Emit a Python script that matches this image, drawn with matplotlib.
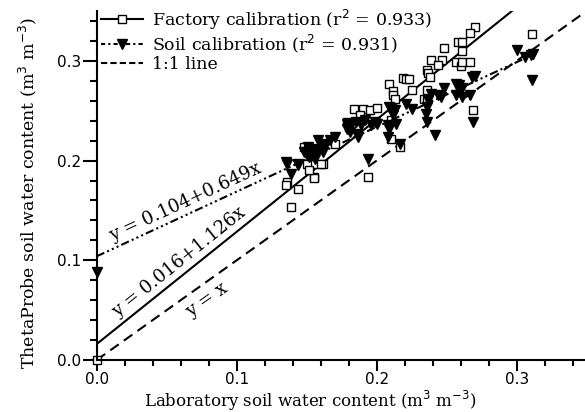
import matplotlib
matplotlib.use("Agg")
import matplotlib.pyplot as plt
import numpy as np
from matplotlib.lines import Line2D

# Factory calibration (open squares)
fac_x = [0.0, 0.270, 0.267, 0.258, 0.261, 0.261, 0.248, 0.239, 0.247, 0.244, 0.257, 0.260,
         0.261, 0.267, 0.311, 0.236, 0.237, 0.238, 0.219, 0.221, 0.223, 0.209, 0.212, 0.212,
         0.213, 0.225, 0.234, 0.236, 0.236, 0.269, 0.184, 0.190, 0.195, 0.200, 0.188, 0.210,
         0.210, 0.217, 0.194, 0.179, 0.180, 0.162, 0.155, 0.150, 0.155, 0.136, 0.135, 0.144,
         0.148, 0.151, 0.170, 0.139, 0.155, 0.160, 0.152]
fac_y = [0.0, 0.334, 0.328, 0.319, 0.319, 0.310, 0.313, 0.301, 0.301, 0.296, 0.299, 0.295,
         0.299, 0.299, 0.327, 0.291, 0.288, 0.284, 0.283, 0.282, 0.282, 0.277, 0.270, 0.266,
         0.262, 0.271, 0.262, 0.261, 0.271, 0.251, 0.252, 0.252, 0.251, 0.253, 0.246, 0.241,
         0.222, 0.214, 0.184, 0.239, 0.234, 0.197, 0.197, 0.197, 0.184, 0.179, 0.176, 0.171,
         0.214, 0.212, 0.217, 0.153, 0.183, 0.197, 0.191]

# Soil calibration (filled triangles)
soil_x = [0.0, 0.300, 0.306, 0.310, 0.312, 0.311, 0.268, 0.270, 0.259, 0.257, 0.261, 0.257,
          0.261, 0.267, 0.248, 0.244, 0.246, 0.239, 0.237, 0.236, 0.235, 0.236, 0.269, 0.242,
          0.221, 0.225, 0.209, 0.213, 0.212, 0.214, 0.208, 0.209, 0.208, 0.217, 0.194, 0.199,
          0.200, 0.196, 0.192, 0.189, 0.186, 0.187, 0.185, 0.182, 0.179, 0.179, 0.181, 0.170,
          0.167, 0.164, 0.162, 0.158, 0.160, 0.155, 0.151, 0.155, 0.152, 0.156, 0.162, 0.144,
          0.139, 0.135, 0.148, 0.150, 0.136, 0.144, 0.154, 0.157]
soil_y = [0.088, 0.311, 0.304, 0.306, 0.307, 0.281, 0.284, 0.285, 0.276, 0.277, 0.273, 0.266,
          0.264, 0.266, 0.273, 0.266, 0.264, 0.267, 0.261, 0.254, 0.247, 0.239, 0.239, 0.226,
          0.257, 0.252, 0.254, 0.251, 0.246, 0.237, 0.236, 0.232, 0.224, 0.217, 0.202, 0.239,
          0.237, 0.236, 0.241, 0.236, 0.227, 0.224, 0.239, 0.236, 0.237, 0.232, 0.229, 0.224,
          0.221, 0.217, 0.214, 0.221, 0.216, 0.212, 0.214, 0.207, 0.204, 0.202, 0.209, 0.197,
          0.187, 0.199, 0.209, 0.206, 0.197, 0.196, 0.206, 0.207]

fac_a, fac_b = 0.016, 1.126
soil_a, soil_b = 0.104, 0.649
fac_r2, soil_r2 = 0.933, 0.931

plt.rcParams['font.family'] = ['DejaVu Serif']
fig = plt.figure(figsize=(5.85, 4.12), dpi=100)
ax = fig.add_axes([96.7 / 585, 52 / 412, 1 - 96.7 / 585, 349 / 412])
ax.set_xlim(0, 0.3488)
ax.set_ylim(0, 0.35)

dashdot3 = (0, (4, 1.5, 1, 1.5, 1, 1.5, 1, 1.5))

xf = np.array([0.0, 0.31])
ax.plot(xf, fac_a + fac_b * xf, color='black', lw=1.5, ls='-')
xs = np.array([0.0, 0.312])
ax.plot(xs, soil_a + soil_b * xs, color='black', lw=1.5, ls=dashdot3)
x1 = np.array([0.0, 0.35])
ax.plot(x1, x1, color='black', lw=1.5, ls=(0, (5, 3)))

ax.plot(fac_x, fac_y, ls='none', marker='s', ms=5.5, mfc='white', mec='black', mew=1.0, clip_on=False)
ax.plot(soil_x, soil_y, ls='none', marker='v', ms=7.5, mfc='black', mec='black', clip_on=False)

h1 = Line2D([], [], color='black', lw=1.5, marker='s', ms=5.5, mfc='white', mec='black', mew=1.0)
h2 = Line2D([], [], color='black', lw=1.5, ls=(0, (2, 1.5, 1, 1.5)), marker='v', ms=7, mfc='black')
h3 = Line2D([], [], color='black', lw=1.5, ls=(0, (3, 1.5)))
leg = ax.legend([h1, h2, h3],
                [f'Factory calibration (r$^2$ = {fac_r2})', f'Soil calibration (r$^2$ = {soil_r2})', '1:1 line'],
                loc='upper left', bbox_to_anchor=(-0.005, 1.03), frameon=False, fontsize=12.5,
                handlelength=2.4, handletextpad=0.5, labelspacing=0.05, numpoints=1, borderaxespad=0)

for s in ['top', 'right']:
    ax.spines[s].set_visible(False)
for s in ['left', 'bottom']:
    ax.spines[s].set_linewidth(1.5)

ax.set_xticks([0.0, 0.1, 0.2, 0.3])
ax.set_xticks(np.arange(0, 0.35, 0.02), minor=True)
ax.set_yticks([0.0, 0.1, 0.2, 0.3])
ax.set_yticks(np.arange(0, 0.35, 0.02), minor=True)
ax.set_xticklabels(['0.0', '0.1', '0.2', '0.3'], family='DejaVu Sans')
ax.set_yticklabels(['0.0', '0.1', '0.2', '0.3'], family='DejaVu Sans')
ax.tick_params(axis='x', which='major', length=8, width=1.5, labelsize=11, pad=1)
ax.tick_params(axis='x', which='minor', length=4, width=1.5)
ax.tick_params(axis='y', which='major', length=10, width=1.5, labelsize=11, pad=1)
ax.tick_params(axis='y', which='minor', length=5, width=1.5)

ax.set_xlabel('Laboratory soil water content (m$^3$ m$^{-3}$)', fontsize=12, labelpad=0)
ax.xaxis.set_label_coords(0.438, -0.082)
ax.set_ylabel('ThetaProbe soil water content (m$^3$ m$^{-3}$)', fontsize=12.5)
ax.yaxis.set_label_coords(-0.118, 0.48)

def ang(slope):
    p = ax.transData.transform([[0, 0], [1, slope]])
    return np.degrees(np.arctan2(p[1, 1] - p[0, 1], p[1, 0] - p[0, 0]))

ax.text(0.063, 0.158, f'y = {soil_a}+{soil_b}x', rotation=ang(soil_b), rotation_mode='anchor',
        ha='center', va='center', fontsize=13)
ax.text(0.059, 0.098, f'y = {fac_a}+{fac_b}x', rotation=ang(fac_b), rotation_mode='anchor',
        ha='center', va='center', fontsize=13)
ax.text(0.079, 0.060, 'y = x', rotation=ang(1.0), rotation_mode='anchor',
        ha='center', va='center', fontsize=13)

fig.savefig('out.png', dpi=100)
